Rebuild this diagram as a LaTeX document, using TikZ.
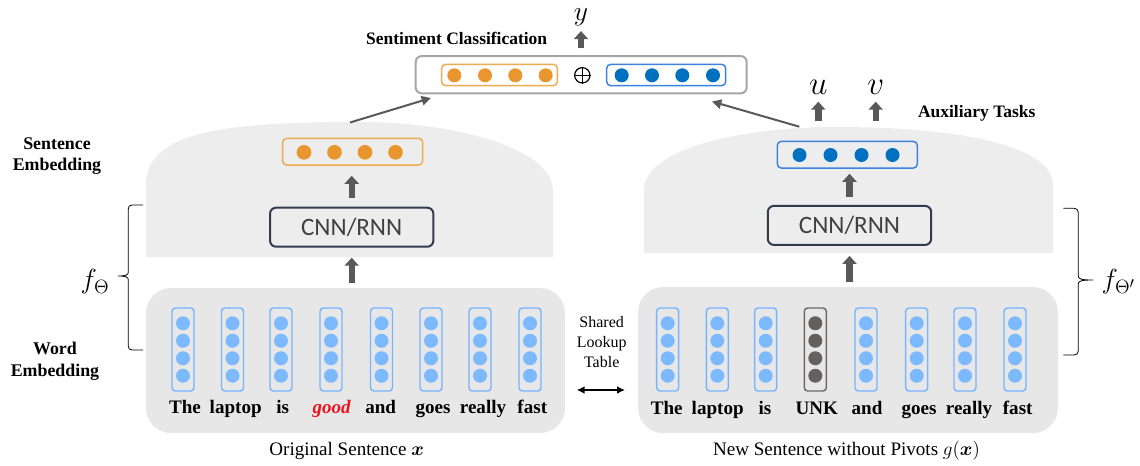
\documentclass[tikz,border=0pt]{standalone}
\usepackage{amsmath}
\usepackage{fontspec}
\setmainfont{Liberation Serif}
\newfontfamily\calibfont{Carlito}
\usetikzlibrary{arrows.meta,calc}
\definecolor{domegray}{RGB}{237,237,237}
\definecolor{boxgray}{RGB}{231,231,231}
\definecolor{lblue}{RGB}{125,185,255}
\definecolor{lblueline}{RGB}{120,180,255}
\definecolor{unkdot}{RGB}{100,96,96}
\definecolor{unkline}{RGB}{105,105,105}
\definecolor{orng}{RGB}{232,150,45}
\definecolor{orngline}{RGB}{240,170,80}
\definecolor{dblue}{RGB}{0,112,192}
\definecolor{dblueline}{RGB}{60,130,220}
\definecolor{navy}{RGB}{50,60,80}
\definecolor{agray}{RGB}{89,89,89}
\definecolor{clsline}{RGB}{166,166,166}
\definecolor{goodred}{RGB}{235,20,30}
\definecolor{textgray}{RGB}{64,64,64}
\begin{document}
\begin{tikzpicture}[x=0.75pt,y=-0.75pt,
  fat/.style={draw=agray,line width=4.8pt,-{Triangle[length=6pt,width=10.5pt]}},
  link/.style={draw=agray,line width=1.5pt,-{Triangle[length=7pt,width=7pt]}},
  wordcol/.style={draw=lblueline,line width=1.1pt,rounded corners=2.5pt,minimum width=16.5pt,minimum height=62.25pt,inner sep=0},
  unkcol/.style={wordcol,draw=unkline},
  wordtxt/.style={font=\bfseries\fontsize{14.3}{16}\selectfont,anchor=base,inner sep=0},
  embbox/.style={fill=boxgray,rounded corners=18.75pt,inner sep=0},
  cnn/.style={draw=navy,line width=1.5pt,rounded corners=4.5pt,minimum width=122.5pt,minimum height=29.25pt,font=\calibfont\fontsize{18.75}{20}\selectfont,text=textgray,inner sep=0},
  vecbox/.style={line width=1.1pt,rounded corners=3pt,minimum width=105pt,minimum height=20pt,inner sep=0},
  boldlbl/.style={font=\bfseries\fontsize{13.1}{16.3}\selectfont,align=center},
  mathlbl/.style={inner sep=0,font=\fontsize{20.74}{21}\selectfont},
  bigmath/.style={inner sep=0,font=\fontsize{24.88}{25}\selectfont},
  bracestyle/.style={draw=black,line width=0.6pt}
]
\useasboundingbox (0,0) rectangle (1140,465);

% domes (sentence embedding areas)
\fill[domegray] (146,257) -- (146,185) .. controls (146,130) and (230,122) .. (360,122) .. controls (460,122) and (553,150) .. (553,190) -- (553,257) -- cycle;
\fill[domegray] (644,253) -- (644,190) .. controls (644,150) and (737,127) .. (837,127) .. controls (957,127) and (1053,145) .. (1053,185) -- (1053,253) -- cycle;
\coordinate (dLtop) at (350,122.5);
\coordinate (dRtop) at (799.3,126.7);

% word embedding areas
\node[embbox,minimum width=314.25pt,minimum height=108.75pt] (embL) at (355.5,360.5) {};
\node[embbox,minimum width=315pt,minimum height=109.5pt] (embR) at (848,360) {};

% word columns left
\foreach \x [count=\i] in {183,232.5,281,331,381.5,431,480,530}{
  \node[wordcol] (wL\i) at (\x,349.5) {};
  \foreach \d in {-26.25,-8.75,8.75,26.25}{\fill[lblue] (\x,{349.5+\d}) circle[radius=5.25pt];}
}
% word columns right
\foreach \x [count=\i] in {667.7,717.3,765.7,815.3,866,916.7,965,1015}{
  \ifnum\i=4
    \node[unkcol] (wR\i) at (\x,349.5) {};
    \foreach \d in {-26.25,-8.75,8.75,26.25}{\fill[unkdot] (\x,{349.5+\d}) circle[radius=5.25pt];}
  \else
    \node[wordcol] (wR\i) at (\x,349.5) {};
    \foreach \d in {-26.25,-8.75,8.75,26.25}{\fill[lblue] (\x,{349.5+\d}) circle[radius=5.25pt];}
  \fi
}

% words left
\node[wordtxt] (tL1) at (185,413) {The};
\node[wordtxt] (tL2) at (235.7,413) {laptop};
\node[wordtxt] (tL3) at (282.7,413) {is};
\node[wordtxt,text=goodred] (tL4) at (331.7,413) {\itshape good};
\node[wordtxt] (tL5) at (380.7,413) {and};
\node[wordtxt] (tL6) at (433,413) {goes};
\node[wordtxt] (tL7) at (483,413) {really};
\node[wordtxt] (tL8) at (532.3,413) {fast};
% words right
\node[wordtxt] (tR1) at (666.7,414) {The};
\node[wordtxt] (tR2) at (717.7,414) {laptop};
\node[wordtxt] (tR3) at (765,414) {is};
\node[wordtxt] (tR4) at (816.7,414) {UNK};
\node[wordtxt] (tR5) at (867,414) {and};
\node[wordtxt] (tR6) at (919,414) {goes};
\node[wordtxt] (tR7) at (969,414) {really};
\node[wordtxt] (tR8) at (1017.7,414) {fast};

% CNN boxes
\node[cnn] (cnnL) at (351.7,227.2) {CNN/RNN};
\node[cnn] (cnnR) at (849.5,225.4) {CNN/RNN};

% sentence vectors
\node[vecbox,draw=orngline] (vecL) at (352.7,151.7) {};
\foreach \x in {304,334.5,365,395.5}{\fill[orng] (\x,152.3) circle[radius=5.5pt];}
\node[vecbox,draw=dblueline] (vecR) at (847.3,154.7) {};
\foreach \x in {799.5,830.5,861.5,892.5}{\fill[dblue] (\x,155) circle[radius=5.25pt];}

% classification box
\node[draw=clsline,line width=1.5pt,rounded corners=4.5pt,minimum width=248.25pt,minimum height=28pt,inner sep=0] (cls) at (581.2,74.7) {};
\node[vecbox,draw=orngline,minimum width=86.7pt,minimum height=16pt] (clsO) at (499.5,75) {};
\foreach \x in {454.3,485,515.3,545.7}{\fill[orng] (\x,75.3) circle[radius=5.25pt];}
\node[vecbox,draw=dblueline,minimum width=89.25pt,minimum height=16pt] (clsB) at (666.2,75) {};
\foreach \x in {621.7,652,682.3,713}{\fill[dblue] (\x,75.3) circle[radius=5.25pt];}
\node[circle,draw=black,line width=0.9pt,minimum size=11.5pt,inner sep=0] (oplus) at (582.3,75.3) {};
\draw[line width=0.9pt] (oplus.north) -- (oplus.south) (oplus.west) -- (oplus.east);
\coordinate (clsinL) at (431,98);
\coordinate (clsinR) at (712,101.5);

% labels
\node[boldlbl,anchor=base] (sc) at (456.7,44.3) {Sentiment Classification};
\node[boldlbl,anchor=base] (aux) at (976.7,117.3) {Auxiliary Tasks};
\node[boldlbl,font=\bfseries\fontsize{13.4}{16.3}\selectfont] (se) at (57,156) {Sentence\\Embedding};
\node[boldlbl,font=\bfseries\fontsize{13.4}{16.3}\selectfont] (we) at (55,361) {Word\\Embedding};
\node[mathlbl] (ylab) at (581,17.5) {$y$};
\node[bigmath] (ulab) at (818.3,87.3) {$u$};
\node[bigmath] (vlab) at (875.7,87.3) {$v$};
\node[mathlbl] (fL) at (95,282) {$f_{\Theta}$};
\node[mathlbl] (fR) at (1118.5,282) {$f_{\Theta'}$};
\node[align=center,font=\fontsize{12}{15}\selectfont] (lk) at (601.7,342.3) {Shared\\Lookup\\Table};
\node[anchor=base,font=\fontsize{14.3}{16}\selectfont] (capL) at (346.7,455.5) {Original Sentence $\boldsymbol{x}$};
\node[anchor=base,font=\fontsize{14.3}{16}\selectfont] (capR) at (846.5,455.5) {New Sentence without Pivots $g(\boldsymbol{x})$};

% fat arrows
\draw[fat,shorten <=5pt,shorten >=3.5pt] (cls.north -| ylab) -- (ylab.south);
\draw[fat,shorten <=14.5pt,shorten >=5.25pt] (vecR.north -| ulab) -- (ulab.south);
\draw[fat,shorten <=14.5pt,shorten >=5.25pt] (vecR.north -| vlab) -- (vlab.south);
\draw[fat,shorten <=6.3pt,shorten >=7.5pt] (cnnL.north) -- (cnnL.north |- vecL.south);
\draw[fat,shorten <=3.75pt,shorten >=7.5pt] (embL.north -| cnnL.south) -- (cnnL.south);
\draw[fat,shorten <=5.6pt,shorten >=3.75pt] (cnnR.north) -- (cnnR.north |- vecR.south);
\draw[fat,shorten <=3.75pt,shorten >=7.5pt] (embR.north -| cnnR.south) -- (cnnR.south);

% links to classifier
\draw[link] (dLtop) -- (clsinL);
\draw[link] (dRtop) -- (clsinR);

% shared lookup double arrow
\coordinate (lkL) at (576.7,390);
\coordinate (lkR) at (625,390);
\draw[line width=1.5pt,{Latex[length=6pt,width=6pt]}-{Latex[length=6pt,width=6pt]}] (lkL) -- (lkR);

% braces
\draw[bracestyle] (143,205) -- (132,205) .. controls (129.5,205) and (128.3,206.5) .. (128.3,209) -- (128.3,272) .. controls (128.3,275) and (126,276) .. (118,276) .. controls (126,276) and (128.3,277) .. (128.3,280) -- (128.3,346) .. controls (128.3,348.5) and (129.5,350) .. (132,350) -- (143,350);
\draw[bracestyle] (1063.3,208.3) -- (1074,208.3) .. controls (1076.5,208.3) and (1078.3,209.8) .. (1078.3,212.3) -- (1078.3,276) .. controls (1078.3,279) and (1081,280) .. (1093,280) .. controls (1081,280) and (1078.3,281) .. (1078.3,284) -- (1078.3,351) .. controls (1078.3,353.5) and (1076.5,355) .. (1074,355) -- (1063.3,355);
\end{tikzpicture}
\end{document}
